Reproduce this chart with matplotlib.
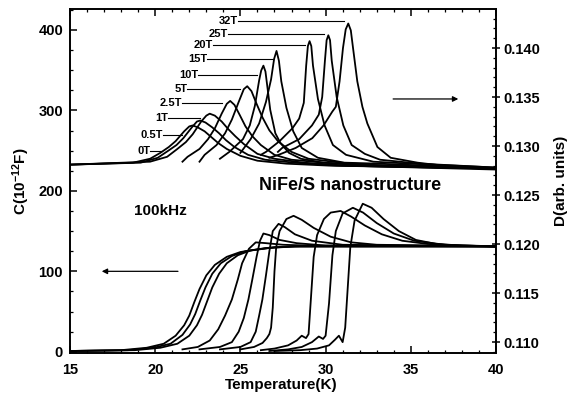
import matplotlib
matplotlib.use("Agg")
import matplotlib.pyplot as plt
from matplotlib.ticker import MultipleLocator

plt.rcParams['font.family'] = ['Liberation Sans', 'DejaVu Sans']
plt.rcParams['font.weight'] = 'bold'
plt.rcParams['mathtext.fontset'] = 'custom'
plt.rcParams['mathtext.rm'] = 'Liberation Sans:bold'
plt.rcParams['mathtext.bf'] = 'Liberation Sans:bold'
plt.rcParams['mathtext.default'] = 'bf'

fields = ["0T", "0.5T", "1T", "2.5T", "5T", "10T", "15T", "20T", "25T", "32T"]

# D (dissipation) curves, right axis -- temperature (K) and D (arb. units)
td_0 = [15, 18.7, 19.7, 20.3, 20.8, 21.2, 21.7, 22.0, 22.2, 22.5, 22.9, 23.3, 23.7, 24.2, 25.0, 26.0, 27.7, 30.2, 40]
d_0 = [0.1281, 0.1283, 0.1287, 0.1293, 0.1299, 0.1305, 0.1315, 0.1320, 0.1321, 0.1319, 0.1315, 0.1309, 0.1303, 0.1297, 0.1290, 0.1285, 0.1282, 0.1280, 0.1277]
td_05 = [15, 19.15, 20.15, 20.75, 21.25, 21.65, 22.15, 22.45, 22.65, 22.95, 23.35, 23.75, 24.15, 24.65, 25.45, 26.45, 28.15, 30.65, 40]
d_05 = [0.1281, 0.1283, 0.1288, 0.1295, 0.1301, 0.1308, 0.1319, 0.1325, 0.1326, 0.1324, 0.1319, 0.1313, 0.1306, 0.1299, 0.1291, 0.1286, 0.1283, 0.1280, 0.1277]
td_1 = [15, 19.7, 20.7, 21.3, 21.8, 22.2, 22.7, 23.0, 23.2, 23.5, 23.9, 24.3, 24.7, 25.2, 26.0, 27.0, 28.7, 31.2, 40]
d_1 = [0.1281, 0.1284, 0.1289, 0.1297, 0.1304, 0.1312, 0.1325, 0.1331, 0.1333, 0.1331, 0.1325, 0.1317, 0.1310, 0.1302, 0.1292, 0.1287, 0.1283, 0.1280, 0.1276]
td_2p5 = [21.6, 21.9, 22.6, 23.1, 23.5, 23.9, 24.2, 24.4, 24.65, 24.95, 25.3, 25.7, 26.2, 27.0, 28.0, 29.9, 32.4, 40]
d_2p5 = [0.1284, 0.1289, 0.1297, 0.1307, 0.1318, 0.1333, 0.1343, 0.1346, 0.1342, 0.1332, 0.1320, 0.1310, 0.1301, 0.1291, 0.1286, 0.1283, 0.1280, 0.1277]
td_5 = [22.6, 22.9, 23.6, 24.1, 24.5, 24.9, 25.2, 25.4, 25.65, 25.95, 26.3, 26.7, 27.2, 28.0, 29.0, 30.9, 33.4, 40]
d_5 = [0.1284, 0.1291, 0.1301, 0.1313, 0.1327, 0.1345, 0.1358, 0.1361, 0.1356, 0.1343, 0.1329, 0.1316, 0.1305, 0.1294, 0.1287, 0.1283, 0.1280, 0.1277]
td_10 = [23.8, 24.35, 25.15, 25.55, 25.85, 26.1, 26.22, 26.35, 26.47, 26.6, 26.75, 27.05, 27.35, 27.85, 28.55, 29.85, 31.85, 40]
d_10 = [0.1287, 0.1294, 0.1307, 0.1321, 0.1341, 0.1367, 0.1377, 0.1382, 0.1376, 0.1358, 0.1337, 0.1313, 0.1303, 0.1293, 0.1287, 0.1283, 0.1281, 0.1277]
td_15 = [25.0, 25.6, 26.1, 26.5, 26.8, 26.98, 27.12, 27.26, 27.4, 27.7, 28.1, 28.6, 29.55, 31.1, 33.1, 40]
d_15 = [0.1293, 0.1307, 0.1323, 0.1345, 0.1368, 0.1389, 0.1397, 0.1387, 0.1366, 0.1339, 0.1315, 0.1298, 0.1288, 0.1283, 0.1282, 0.1277]
td_20 = [26.2, 26.5, 27.3, 28.05, 28.45, 28.72, 28.86, 28.96, 29.06, 29.16, 29.26, 29.55, 29.94, 30.43, 31.2, 32.8, 35.0, 40]
d_20 = [0.1291, 0.1294, 0.1305, 0.1318, 0.1328, 0.1344, 0.1382, 0.1402, 0.1407, 0.1402, 0.1382, 0.1348, 0.1321, 0.1301, 0.1291, 0.1284, 0.1282, 0.1278]
td_25 = [27.2, 27.45, 28.45, 29.2, 29.6, 29.8, 29.96, 30.06, 30.16, 30.26, 30.36, 30.65, 31.04, 31.53, 32.3, 33.2, 35.5, 40]
d_25 = [0.1294, 0.1298, 0.1307, 0.1321, 0.1332, 0.1350, 0.1387, 0.1408, 0.1413, 0.1408, 0.1387, 0.1350, 0.1321, 0.1301, 0.1292, 0.1286, 0.1282, 0.1278]
td_32 = [26.7, 27.24, 28.24, 29.22, 29.88, 30.39, 30.6, 30.82, 31.02, 31.18, 31.33, 31.48, 31.61, 31.86, 32.16, 32.45, 33.04, 33.82, 35.4, 37.35, 40]
d_32 = [0.1288, 0.1291, 0.1298, 0.1308, 0.1321, 0.1335, 0.1340, 0.1366, 0.1400, 0.1419, 0.1425, 0.1418, 0.1400, 0.1366, 0.1340, 0.1323, 0.1299, 0.1288, 0.1283, 0.1279, 0.1277]

# C (capacitance) curves, left axis -- temperature (K) and C (1e-12 F)
tc_0 = [15, 18, 19.5, 20.5, 21.2, 21.7, 22.0, 22.3, 22.6, 23.0, 23.5, 24.2, 25.0, 26.5, 28, 40]
c_0 = [1, 2, 5, 10, 20, 33, 45, 62, 78, 95, 108, 118, 124, 129, 131, 131]
tc_05 = [15, 18.4, 19.9, 20.9, 21.6, 22.05, 22.35, 22.65, 22.95, 23.35, 23.85, 24.5, 25.3, 26.7, 28.2, 40]
c_05 = [1, 2, 5, 10, 21, 34, 47, 64, 80, 97, 110, 119, 125, 129, 131, 131]
tc_1 = [15, 18.8, 20.3, 21.3, 22.0, 22.45, 22.75, 23.05, 23.35, 23.75, 24.2, 24.85, 25.6, 27.0, 28.5, 40]
c_1 = [1, 2, 5, 10, 20, 33, 46, 63, 80, 97, 110, 120, 126, 130, 131, 131]
tc_2p5 = [21.6, 22.5, 23.2, 23.7, 24.1, 24.5, 24.85, 25.1, 25.5, 25.9, 26.5, 27.5, 29, 40]
c_2p5 = [3, 6, 14, 28, 45, 65, 90, 110, 128, 136, 135, 133, 132, 131]
tc_5 = [22.6, 23.8, 24.5, 24.9, 25.2, 25.47, 25.7, 25.95, 26.15, 26.35, 26.7, 27.3, 28.3, 30, 40]
c_5 = [3, 6, 12, 25, 42, 65, 90, 118, 138, 147, 145, 139, 135, 132, 131]
tc_10 = [23.8, 25.0, 25.6, 25.9, 26.1, 26.29, 26.5, 26.7, 26.9, 27.24, 27.6, 28.2, 29.2, 31, 40]
c_10 = [3, 6, 12, 25, 45, 65, 95, 125, 150, 159, 155, 146, 138, 133, 131]
tc_15 = [25.0, 25.8, 26.3, 26.55, 26.7, 26.8, 26.9, 27.0, 27.1, 27.3, 27.7, 28.12, 28.6, 29.3, 30.3, 31.5, 33, 40]
c_15 = [3, 6, 11, 17, 22, 30, 55, 100, 130, 150, 165, 169, 164, 154, 143, 136, 133, 131]
tc_20 = [26.2, 27.0, 27.8, 28.3, 28.6, 28.85, 29.0, 29.15, 29.3, 29.5, 29.9, 30.3, 30.88, 31.5, 32.3, 33.3, 34.5, 36, 38, 40]
c_20 = [2, 4, 8, 14, 20, 17, 22, 70, 118, 145, 165, 173, 175, 168, 157, 146, 138, 134, 132, 131]
tc_25 = [26.7, 27.8, 28.6, 29.2, 29.6, 29.85, 30.0, 30.2, 30.4, 30.6, 31.0, 31.6, 32.2, 33, 34, 35.2, 37, 40]
c_25 = [1, 3, 6, 12, 19, 16, 20, 60, 120, 150, 172, 179, 173, 160, 147, 138, 133, 131]
tc_32 = [27.0, 28.5, 29.5, 30.2, 30.55, 30.78, 31.0, 31.15, 31.3, 31.45, 31.7, 32.18, 32.7, 33.4, 34.3, 35.3, 36.5, 38, 40]
c_32 = [1, 2, 4, 8, 15, 20, 12, 30, 80, 130, 163, 184, 179, 165, 150, 139, 134, 132, 131]

d_curves = [(td_0, d_0), (td_05, d_05), (td_1, d_1), (td_2p5, d_2p5), (td_5, d_5),
            (td_10, d_10), (td_15, d_15), (td_20, d_20), (td_25, d_25), (td_32, d_32)]
c_curves = [(tc_0, c_0), (tc_05, c_05), (tc_1, c_1), (tc_2p5, c_2p5), (tc_5, c_5),
            (tc_10, c_10), (tc_15, c_15), (tc_20, c_20), (tc_25, c_25), (tc_32, c_32)]

# leader lines for the field labels: (T start, T end, D level)
label_lines = [(19.7, 20.4, 0.12949), (20.47, 21.59, 0.13112), (20.76, 22.65, 0.13286),
               (21.59, 23.94, 0.13439), (21.88, 25.0, 0.13582), (22.53, 26.0, 0.13724),
               (23.06, 26.94, 0.13888), (23.41, 28.82, 0.14031), (24.29, 29.88, 0.14143),
               (24.88, 31.06, 0.14276)]

fig = plt.figure(figsize=(5.73, 3.97), dpi=100)
ax = fig.add_axes([70/573, 44/397, 426/573, 344/397])
ax2 = ax.twinx()

for t, c in c_curves:
    ax.plot(t, c, color='k', lw=1.3)
for t, d in d_curves:
    ax2.plot(t, d, color='k', lw=1.3)

for name, (x0, x1, y) in zip(fields, label_lines):
    ax2.plot([x0, x1], [y, y], color='k', lw=0.8)
    ax2.text(x0, y, name, ha='right', va='center', fontsize=8, fontweight='bold')

ax.set_xlim(15, 40)
ax.set_ylim(-1.5, 426)
ax2.set_ylim(0.10888, 0.14398)

ax.set_xticks([15, 20, 25, 30, 35, 40])
ax.xaxis.set_minor_locator(MultipleLocator(1))
ax.set_yticks([0, 100, 200, 300, 400])
ax.yaxis.set_minor_locator(MultipleLocator(25))
ax2.set_yticks([0.110, 0.115, 0.120, 0.125, 0.130, 0.135, 0.140])
ax2.set_yticklabels(['0.110', '0.115', '0.120', '0.125', '0.130', '0.135', '0.140'])
ax2.yaxis.set_minor_locator(MultipleLocator(0.001))

ax.tick_params(axis='both', which='both', direction='in', top=True, labelsize=10.5)
ax.tick_params(axis='both', which='major', length=5, width=1.1)
ax.tick_params(axis='both', which='minor', length=2.5, width=0.9)
ax.tick_params(axis='x', which='major', pad=7)
ax.tick_params(axis='y', which='major', pad=5)
ax2.tick_params(axis='y', which='major', direction='inout', length=6, width=1.1, labelsize=10.5, pad=2)
ax2.tick_params(axis='y', which='minor', direction='in', length=2.5, width=0.9)
for a in (ax, ax2):
    for s in a.spines.values():
        s.set_linewidth(1.2)
    for lab in a.get_xticklabels() + a.get_yticklabels():
        lab.set_fontweight('bold')

ax.set_xlabel('Temperature(K)', fontsize=11, fontweight='bold')
ax.xaxis.set_label_coords(0.496, -0.073)
ax.set_ylabel(r'C(10$^{-12}$F)', fontsize=11, fontweight='bold')
ax.yaxis.set_label_coords(-0.09, 0.5)
ax2.set_ylabel('D(arb. units)', fontsize=11, fontweight='bold')
ax2.yaxis.set_label_coords(1.135, 0.5)

ax.text(20.3, 175, '100kHz', ha='center', va='center', fontsize=11, fontweight='bold')
ax2.text(31.45, 0.12595, 'NiFe/S nanostructure', ha='center', va='center', fontsize=13, fontweight='bold')

ax.annotate('', xy=(16.7, 100), xytext=(21.5, 100),
            arrowprops=dict(arrowstyle='-|>', lw=0.9, color='k', mutation_scale=8))
ax2.annotate('', xy=(37.95, 0.1348), xytext=(33.8, 0.1348),
             arrowprops=dict(arrowstyle='-|>', lw=0.9, color='k', mutation_scale=8))

fig.savefig('out.png', dpi=100)
